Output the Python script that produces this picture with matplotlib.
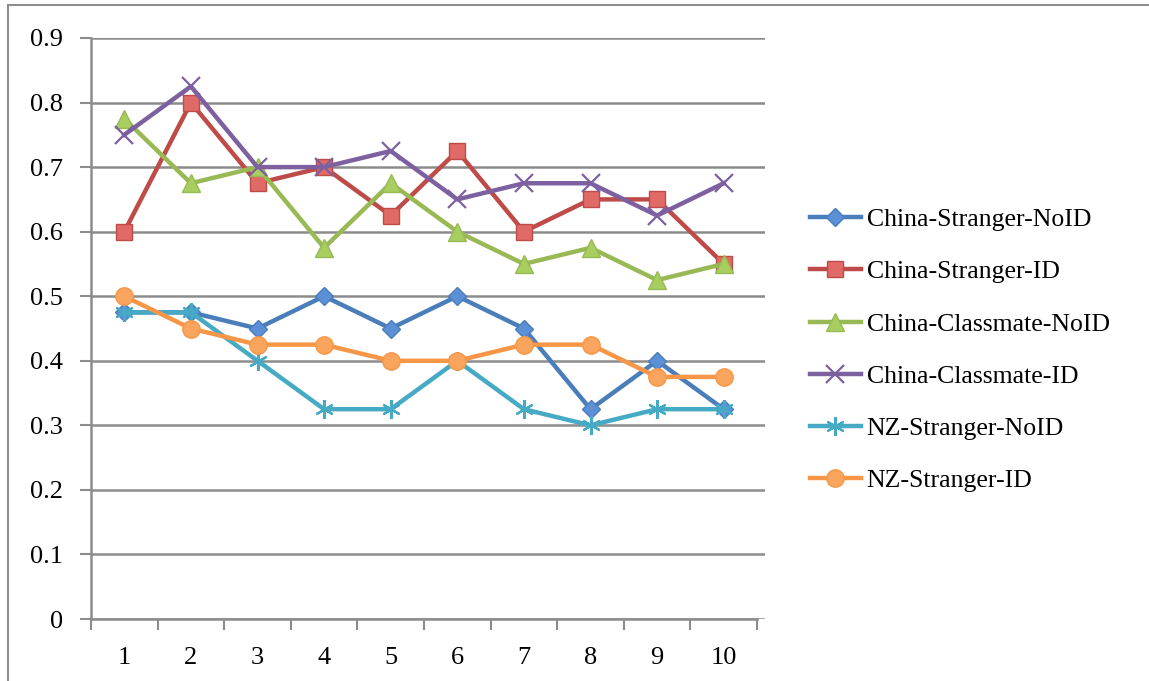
import matplotlib
matplotlib.use("Agg")
import matplotlib.pyplot as plt
from matplotlib.patches import Rectangle

trials = [1, 2, 3, 4, 5, 6, 7, 8, 9, 10]
y_ticks = [0, 0.1, 0.2, 0.3, 0.4, 0.5, 0.6, 0.7, 0.8, 0.9]
y_labels = ["0", "0.1", "0.2", "0.3", "0.4", "0.5", "0.6", "0.7", "0.8", "0.9"]

china_stranger_noid = [0.475, 0.475, 0.45, 0.5, 0.45, 0.5, 0.45, 0.325, 0.4, 0.325]
china_stranger_id = [0.6, 0.8, 0.675, 0.7, 0.625, 0.725, 0.6, 0.65, 0.65, 0.55]
china_classmate_noid = [0.775, 0.675, 0.7, 0.575, 0.675, 0.6, 0.55, 0.575, 0.525, 0.55]
china_classmate_id = [0.75, 0.825, 0.7, 0.7, 0.725, 0.65, 0.675, 0.675, 0.625, 0.675]
nz_stranger_noid = [0.475, 0.475, 0.4, 0.325, 0.325, 0.4, 0.325, 0.3, 0.325, 0.325]
nz_stranger_id = [0.5, 0.45, 0.425, 0.425, 0.4, 0.4, 0.425, 0.425, 0.375, 0.375]

series = [
    ("China-Stranger-NoID", china_stranger_noid, "#4A7EBB", "#5B8FD6", "D", 9.5),
    ("China-Stranger-ID", china_stranger_id, "#BE4B48", "#E06A66", "s", 11.5),
    ("China-Classmate-NoID", china_classmate_noid, "#98B954", "#A8CE60", "^", 12.5),
    ("China-Classmate-ID", china_classmate_id, "#7D60A0", "#8F7CB5", "x", 12.5),
    ("NZ-Stranger-NoID", nz_stranger_noid, "#46AAC5", "#46AAC5", (6, 2, 0), 13.5),
    ("NZ-Stranger-ID", nz_stranger_id, "#F79646", "#F9A55E", "o", 12.5),
]

plt.rcParams["font.family"] = ["Liberation Serif", "DejaVu Serif"]

W, H = 1149, 681
fig = plt.figure(figsize=(W / 100, H / 100), dpi=100)

# outer chart frame
fig.patches.append(Rectangle((8 / W, -0.1), 1.2, (H - 5) / H + 0.1,
                             transform=fig.transFigure, fill=False,
                             edgecolor="#8C8C8C", linewidth=1.5))

ax = fig.add_axes([91 / W, 1 - 619 / H, (765 - 91) / W, (619 - 38) / H])

for name, vals, lc, fc, mk, ms in series:
    mew = 1.0
    if mk == "x" or isinstance(mk, tuple):
        mew = 1.6
    ax.plot(trials, vals, color=lc, linewidth=3.2, marker=mk, markersize=ms,
            markerfacecolor=fc, markeredgecolor=lc, markeredgewidth=mew,
            label=name, zorder=3)

ax.set_ylim(0, 0.9)
ax.set_xlim(0.5, 10.62)
ax.set_yticks(y_ticks)
ax.set_yticklabels(y_labels)
ax.set_xticks(trials)
ax.set_xticklabels([str(t) for t in trials])
ax.set_xticks([t - 0.5 for t in trials] + [10.5], minor=True)

ax.grid(axis="y", color="#8C8C8C", linewidth=1.8, zorder=0)
ax.set_axisbelow(True)

for s in ("top", "right"):
    ax.spines[s].set_visible(False)
ax.spines["left"].set_color("#8C8C8C")
ax.spines["left"].set_linewidth(1.8)
ax.spines["bottom"].set_color("#8C8C8C")
ax.spines["bottom"].set_linewidth(1.8)
ax.spines["bottom"].set_bounds(0.5, 10.5)

ax.tick_params(axis="y", length=8, width=1.5, color="#8C8C8C",
               labelsize=19, pad=12)
ax.tick_params(axis="x", which="major", length=0, labelsize=19, pad=20)
ax.tick_params(axis="x", which="minor", length=8, width=1.5, color="#8C8C8C")

leg = ax.legend(loc="upper left", bbox_to_anchor=(1.051, 0.725), frameon=False,
                fontsize=18.5, handlelength=2.0, handletextpad=0.22,
                labelspacing=1.14, borderaxespad=0)

fig.savefig("out.png", dpi=100)
